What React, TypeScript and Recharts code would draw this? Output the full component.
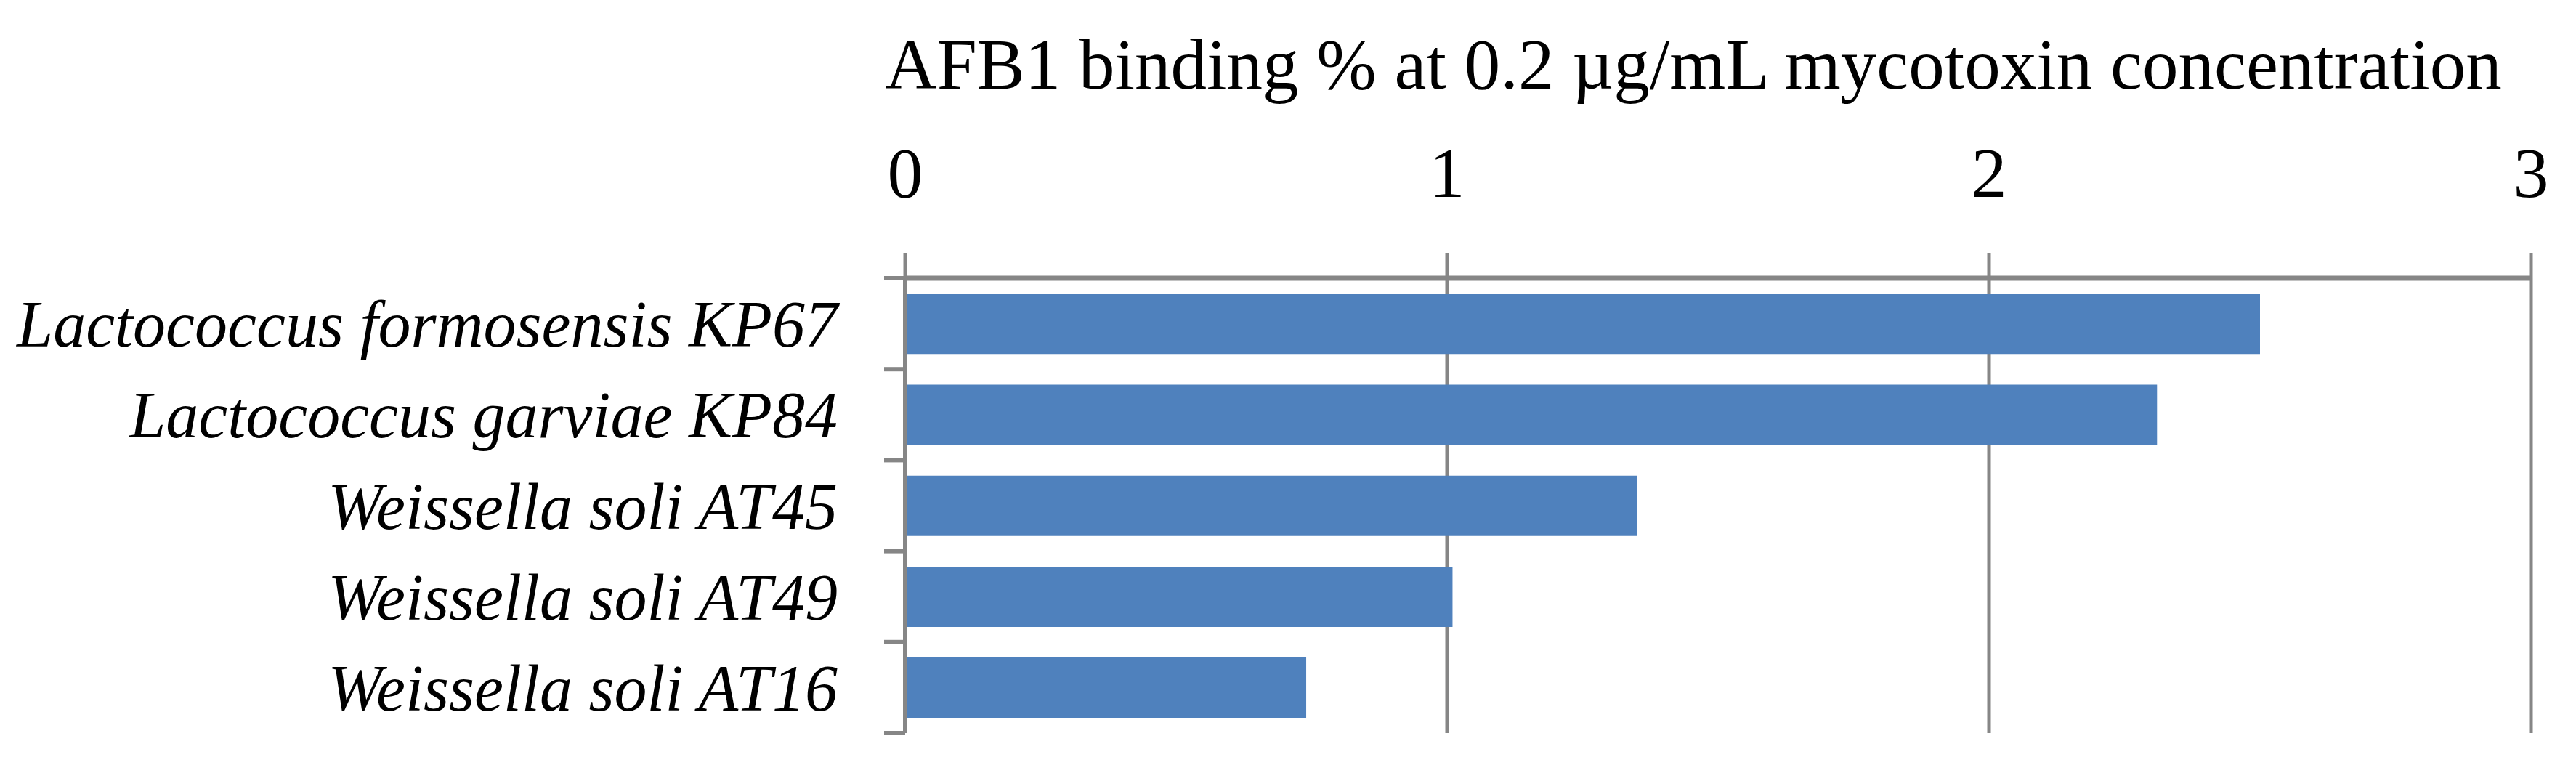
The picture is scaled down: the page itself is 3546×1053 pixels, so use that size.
import { BarChart, Bar, XAxis, YAxis, CartesianGrid } from 'recharts';

// strains, top to bottom
const strains = [
  'Lactococcus formosensis KP67',
  'Lactococcus garviae KP84',
  'Weissella soli AT45',
  'Weissella soli AT49',
  'Weissella soli AT16',
];

// AFB1 binding %
const bindingPct = [2.5, 2.31, 1.35, 1.01, 0.74];

const valueTicks = [0, 1, 2, 3];

const title = 'AFB1 binding % at 0.2 µg/mL mycotoxin concentration';

const GRAY = '#868686';
const BLUE = '#4F81BD';
const FONT = "'Liberation Serif', 'Times New Roman', serif";
const TICK_LEN = 29;
const TICK_GAP = 64;

const data = strains.map((name, i) => ({ name, value: bindingPct[i] }));

// category label plus the tick mark on the band boundary (Excel style)
function StrainTick(props: any) {
  const { x, y, payload, index, visibleTicksCount } = props;
  const half = payload?.offset ?? 0;
  const axisX = x + TICK_GAP + TICK_LEN;
  const isLast = visibleTicksCount != null ? index === visibleTicksCount - 1 : index === strains.length - 1;
  return (
    <g>
      <line x1={axisX - TICK_LEN} x2={axisX} y1={y - half} y2={y - half} stroke={GRAY} strokeWidth={6} />
      {isLast && (
        <line x1={axisX - TICK_LEN} x2={axisX} y1={y + half} y2={y + half} stroke={GRAY} strokeWidth={6} />
      )}
      <text
        x={x}
        y={y}
        dy="0.35em"
        textAnchor="end"
        fontSize={90}
        fontFamily={FONT}
        fontStyle="italic"
        fill="#000"
      >
        {payload.value}
      </text>
    </g>
  );
}

export default function App() {
  return (
    <div style={{ position: 'absolute', left: 0, top: 0, background: '#fff' }}>
      <BarChart
        width={3546}
        height={1053}
        layout="vertical"
        data={data}
        margin={{ top: 0, right: 62, bottom: 44, left: 0 }}
        barCategoryGap="17%"
      >
        <CartesianGrid horizontal={false} stroke={GRAY} strokeWidth={5} />
        <XAxis
          type="number"
          orientation="top"
          domain={[0, 3]}
          ticks={valueTicks}
          height={383}
          tickSize={35}
          tickMargin={77}
          axisLine={{ stroke: GRAY, strokeWidth: 7 }}
          tickLine={{ stroke: GRAY, strokeWidth: 5 }}
          tick={{ fill: '#000', fontSize: 98, fontFamily: FONT }}
          label={{
            content: (props: any) => {
              const vb = props.viewBox || { x: 0, y: 0, width: 0 };
              return (
                <text
                  x={vb.x + vb.width / 2 - 34}
                  y={vb.y + 122}
                  textAnchor="middle"
                  fontSize={99}
                  fontFamily={FONT}
                  fill="#000"
                >
                  {title}
                </text>
              );
            },
          }}
        />
        <YAxis
          dataKey="name"
          type="category"
          width={1246}
          tickSize={TICK_LEN}
          tickMargin={TICK_GAP}
          tickLine={false}
          axisLine={{ stroke: GRAY, strokeWidth: 6 }}
          tick={<StrainTick />}
        />
        <Bar dataKey="value" fill={BLUE} isAnimationActive={false} />
      </BarChart>
    </div>
  );
}
